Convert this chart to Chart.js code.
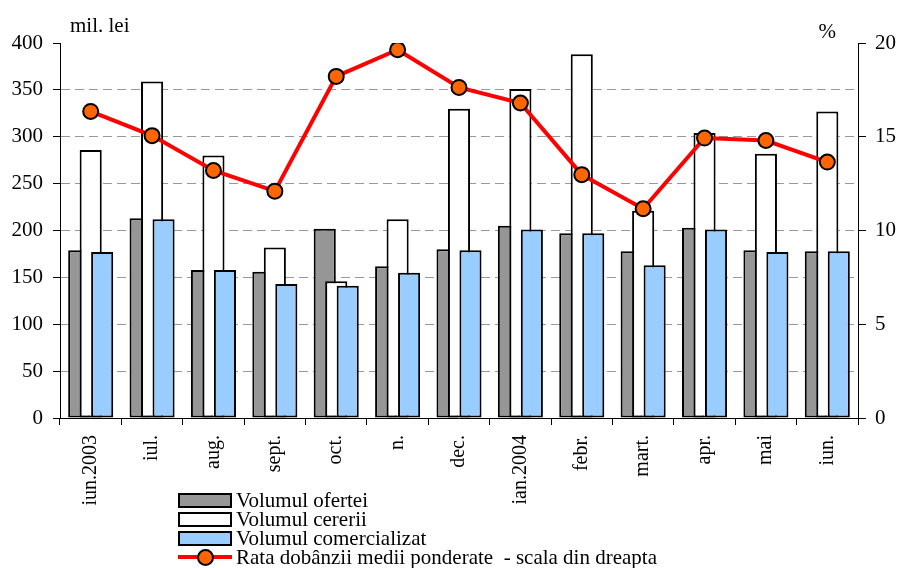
<!DOCTYPE html>
<html>
<head>
<meta charset="utf-8">
<script src="https://cdn.jsdelivr.net/npm/chart.js@4"></script>
<style>
  body { margin: 0; background: #fff; }
  #wrap { position: relative; width: 899px; height: 568px; }
  #legend { position: absolute; left: 178px; top: 491px; font: 21px 'Liberation Serif', 'Times New Roman', serif; color: #000; }
  .row { height: 19px; line-height: 19px; display: flex; align-items: center; white-space: pre; }
  .sym { width: 54px; height: 15px; margin-right: 4px; position: relative; box-sizing: border-box; flex: none; }
  .sym.box { border: 2px solid #000; }
  .sym .ln { position: absolute; left: 0; right: 0; top: 5px; height: 4px; background: #ff0000; }
  .sym .dot { position: absolute; left: 19px; top: -1px; width: 17px; height: 17px; box-sizing: border-box; border-radius: 50%; border: 2px solid #000; }
</style>
</head>
<body>
<div id="wrap">
  <canvas id="c" width="899" height="568"></canvas>
  <div id="legend"></div>
</div>
<script>
// ── data ──
const categories = ['iun.2003', 'iul.', 'aug.', 'sept.', 'oct.', 'n.', 'dec.', 'ian.2004', 'febr.', 'mart.', 'apr.', 'mai', 'iun.'];
const oferta        = [179, 213, 158, 156, 202, 162, 180, 205, 197, 178, 203, 179, 178];
const cerere        = [286, 359, 280, 182, 146, 212, 330, 351, 388, 221, 304, 282, 327];
const comercializat = [177, 212, 158, 143, 141, 155, 179, 201, 197, 163, 201, 177, 178];
const rata          = [16.35, 15.06, 13.2, 12.1, 18.22, 19.64, 17.63, 16.8, 12.98, 11.16, 14.93, 14.8, 13.65];

const leftMax = 400, leftStep = 50;
const rightMax = 20, rightStep = 5;

const FAMILY = "'Liberation Serif', 'Times New Roman', serif";
const FONT = { family: FAMILY, size: 20 };
const FONT_Y = { family: FAMILY, size: 21 };
const SHIFT = 0.187; // bars overlap like in Excel (each bar moved by ~half its width)
const pts = arr => arr.map((v, i) => ({ x: i, y: v }));

const axisTitles = {
  id: 'axisTitles',
  afterDraw(chart) {
    const { ctx, chartArea } = chart;
    ctx.save();
    ctx.font = `21px ${FAMILY}`;
    ctx.fillStyle = '#000';
    ctx.textBaseline = 'alphabetic';
    ctx.textAlign = 'left';
    ctx.fillText('mil. lei', chartArea.left + 10, 32);
    ctx.textAlign = 'right';
    ctx.fillText('%', chartArea.right - 22, 38);
    ctx.restore();
  }
};

const barBase = { borderColor: '#000', borderWidth: 2, borderSkipped: false, grouped: false, categoryPercentage: 1, barPercentage: 0.36 };

const chart = new Chart(document.getElementById('c'), {
  type: 'bar',
  data: {
    datasets: [
      { ...barBase, label: 'Volumul ofertei', data: pts(oferta), backgroundColor: '#969696', xAxisID: 'xg', yAxisID: 'y', order: 3 },
      { ...barBase, label: 'Volumul cererii', data: pts(cerere), backgroundColor: '#ffffff', xAxisID: 'x', yAxisID: 'y', order: 2 },
      { ...barBase, label: 'Volumul comercializat', data: pts(comercializat), backgroundColor: '#99ccff', xAxisID: 'xb', yAxisID: 'y', order: 1 },
      { type: 'line', label: 'Rata dobânzii medii ponderate  - scala din dreapta', data: pts(rata), xAxisID: 'x', yAxisID: 'y1', order: 0,
        borderColor: '#ff0000', borderWidth: 4, backgroundColor: '#ff6600', tension: 0,
        pointRadius: 7.5, pointBackgroundColor: '#ff6600', pointBorderColor: '#000', pointBorderWidth: 2 }
    ]
  },
  options: {
    responsive: false,
    animation: false,
    devicePixelRatio: 1,
    layout: { padding: { top: 43, left: 0, right: 0, bottom: 0 } },
    plugins: { legend: { display: false }, tooltip: { enabled: false } },
    scales: {
      x: {
        type: 'linear', min: -0.5, max: 12.5, offset: false,
        afterBuildTicks: ax => { ax.ticks = categories.map((_, i) => ({ value: i })); },
        afterFit: ax => { ax.height = 150; },
        ticks: { autoSkip: false, minRotation: 90, maxRotation: 90, padding: 10, color: '#000', font: FONT,
                 callback: v => categories[v] },
        grid: { offset: true, drawOnChartArea: false, drawTicks: true, tickLength: 7, color: '#000', lineWidth: 1 },
        border: { color: '#000', width: 1 }
      },
      xg: { type: 'linear', display: false, min: -0.5 + SHIFT, max: 12.5 + SHIFT, offset: false },
      xb: { type: 'linear', display: false, min: -0.5 - SHIFT, max: 12.5 - SHIFT, offset: false },
      y: {
        position: 'left', min: 0, max: leftMax,
        afterFit: ax => { ax.width = 60; },
        ticks: { stepSize: leftStep, padding: 10, color: '#000', font: FONT_Y },
        grid: { color: c => (c.tick.value === 0 || c.tick.value === leftMax) ? 'rgba(0,0,0,0)' : '#999999',
                tickColor: '#000', tickLength: 7, tickBorderDash: [], lineWidth: 1 },
        border: { color: '#000', width: 1, dash: [9, 5] }
      },
      y1: {
        position: 'right', min: 0, max: rightMax,
        afterFit: ax => { ax.width = 41; },
        ticks: { stepSize: rightStep, padding: 9, color: '#000', font: FONT_Y },
        grid: { drawOnChartArea: false, tickColor: '#000', tickLength: 8 },
        border: { color: '#000', width: 1 }
      }
    }
  },
  plugins: [axisTitles]
});

// legend built from the datasets
const legendEl = document.getElementById('legend');
chart.data.datasets.forEach(ds => {
  const row = document.createElement('div');
  row.className = 'row';
  const sym = document.createElement('div');
  if (ds.type === 'line') {
    sym.className = 'sym';
    sym.innerHTML = `<div class="ln"></div><div class="dot" style="background:${ds.pointBackgroundColor}"></div>`;
  } else {
    sym.className = 'sym box';
    sym.style.background = ds.backgroundColor;
  }
  row.appendChild(sym);
  row.appendChild(document.createTextNode(ds.label));
  legendEl.appendChild(row);
});
</script>
</body>
</html>
